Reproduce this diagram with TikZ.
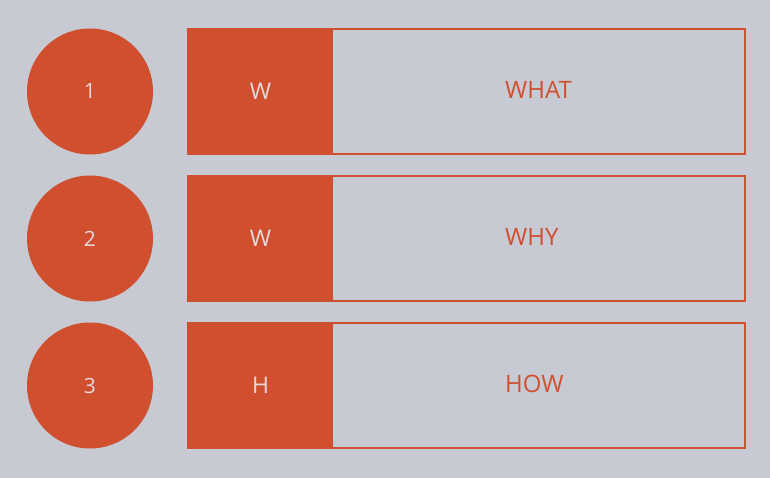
\documentclass[tikz,border=0pt]{standalone}
\usepackage{fontspec}
\setmainfont{Open Sans}
\usetikzlibrary {positioning}
\definecolor{brick}{HTML}{D04F2F}
\definecolor{slate}{HTML}{C7CAD2}
\definecolor{pale}{HTML}{E4DADD}

\begin{document}
\begin{tikzpicture}[x=1pt, y=-1pt,
	num/.style={shape=circle, fill=brick, text=pale, minimum size=126pt, inner sep=0pt, font=\fontsize{21}{24}\selectfont},
	bar/.style={draw=brick, line width=1.3pt, minimum width=557pt, minimum height=125pt, inner sep=0pt},
	key/.style={fill=brick, text=pale, minimum width=145pt, minimum height=125pt, inner sep=0pt, font=\fontsize{23}{26}\selectfont},
	word/.style={anchor=west, text=brick, inner sep=0pt, font=\fontsize{24}{28}\selectfont}]
		\fill[slate] (0,0) rectangle (770,478);
		\useasboundingbox (0,0) rectangle (770,478);
		% row one
		\node (C1) at  ( 90, 91.5) [num] {1};
		\node (B1) at  (466.5, 91.5) [bar] {};
		\node (K1) at  (260.5, 91.5) [key] {W};
		\node (T1) at  (505, 90) [word] {WHAT};
		% row two
		\node (C2) at  ( 90, 238.5) [num] {2};
		\node (B2) at  (466.5, 238.5) [bar] {};
		\node (K2) at  (260.5, 238.5) [key] {W};
		\node (T2) at  (505, 237) [word] {WHY};
		% row three
		\node (C3) at  ( 90, 385.5) [num] {3};
		\node (B3) at  (466.5, 385.5) [bar] {};
		\node (K3) at  (260.5, 385.5) [key] {H};
		\node (T3) at  (505, 384) [word] {HOW};
\end{tikzpicture}
\end{document}
